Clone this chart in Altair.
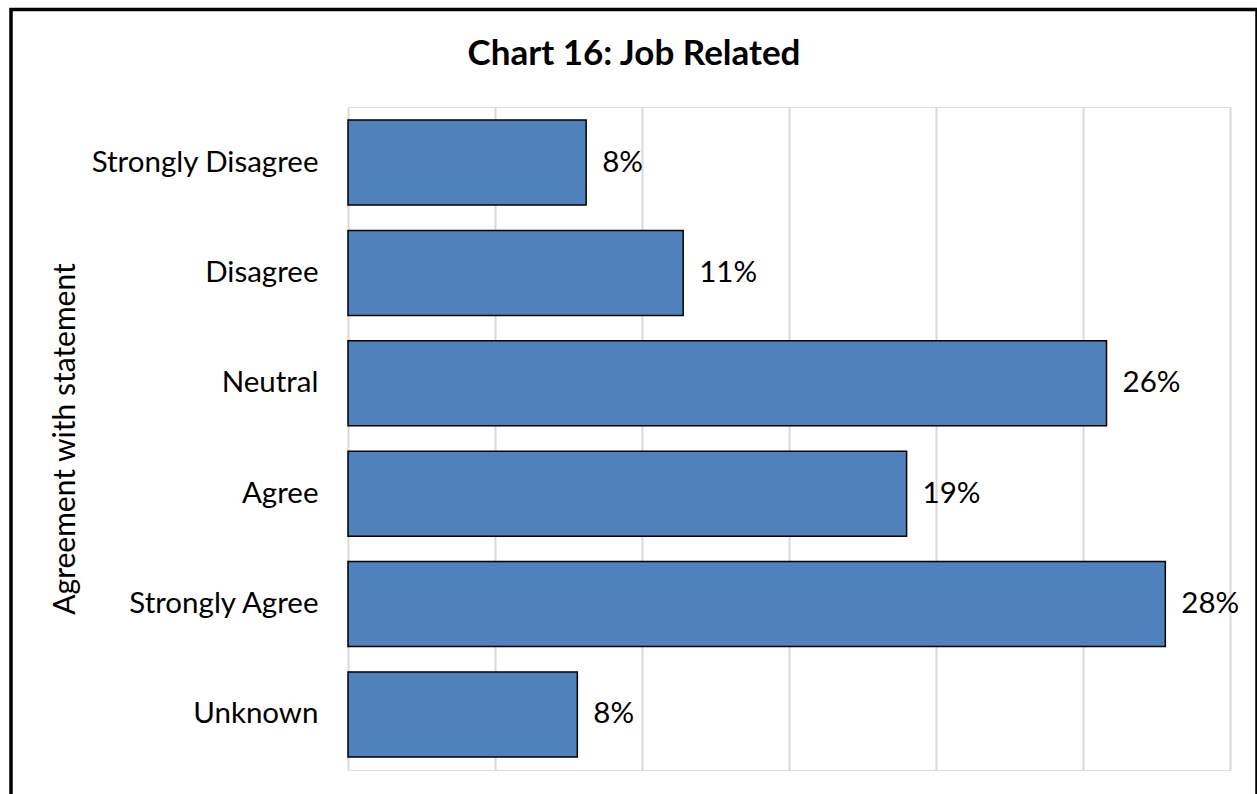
import altair as alt
import pandas as pd

# Survey responses for the "Job Related" statement
categories = ["Strongly Disagree", "Disagree", "Neutral", "Agree", "Strongly Agree", "Unknown"]
shares = [0.081, 0.114, 0.258, 0.190, 0.278, 0.078]
grid_ticks = [0.0, 0.05, 0.10, 0.15, 0.20, 0.25, 0.30]

df = pd.DataFrame({"category": categories, "share": shares})

FONT = "Lato"
PLOT_W, PLOT_H = 882, 663
PAD = {"left": 348, "top": 107, "right": 27, "bottom": 24}

x_scale = alt.Scale(domain=[0, 0.30], nice=False, zero=True)
y_scale = alt.Scale(paddingInner=0.23, paddingOuter=0.118)

base = alt.Chart(df)

bars = base.mark_bar(fill="#4F81BD", stroke="#000000", strokeWidth=1.5).encode(
    x=alt.X(
        "share:Q",
        scale=x_scale,
        axis=alt.Axis(
            values=grid_ticks,
            labels=False,
            ticks=False,
            domain=False,
            title=None,
            grid=True,
            gridColor="#d9d9d9",
            gridWidth=2,
        ),
    ),
    y=alt.Y(
        "category:N",
        sort=categories,
        scale=y_scale,
        axis=alt.Axis(
            title="Agreement with statement",
            ticks=False,
            domain=False,
            labelFont=FONT,
            labelFontSize=29.5,
            labelColor="#000000",
            labelPadding=30,
            labelLimit=0,
            titleFont=FONT,
            titleFontSize=30,
            titleFontWeight="normal",
            titleColor="#000000",
            titleAngle=-90,
            titleAlign="center",
            titleBaseline="middle",
            titleX=-283,
            titleY=PLOT_H / 2,
        ),
    ),
)

labels = base.mark_text(
    align="left", baseline="middle", dx=16, font=FONT, fontSize=29.5, color="#000000"
).encode(
    x=alt.X("share:Q", scale=x_scale),
    y=alt.Y("category:N", sort=categories, scale=y_scale),
    text=alt.Text("share:Q", format=".0%"),
)

# Outer frame around the whole figure
frame = alt.Chart(alt.Data(values=[{}])).mark_rect(
    fill=None, stroke="#000000", strokeWidth=3.5, clip=False
).encode(
    x=alt.value(-337),
    x2=alt.value(909),
    y=alt.value(-97.5),
    y2=alt.value(700),
)

chart = (
    alt.layer(bars, labels, frame)
    .properties(
        width=PLOT_W,
        height=PLOT_H,
        autosize=alt.AutoSizeParams(type="none"),
        padding=PAD,
        title=alt.TitleParams(
            "Chart 16: Job Related",
            font=FONT,
            fontSize=35,
            fontWeight="bold",
            color="#000000",
            anchor="middle",
            dx=-155,
            offset=-64,
        ),
    )
    .configure_view(stroke="transparent", strokeWidth=0)
    .configure(background="#ffffff")
)

chart.save("out.html", embed_options={"renderer": "svg", "actions": False})
